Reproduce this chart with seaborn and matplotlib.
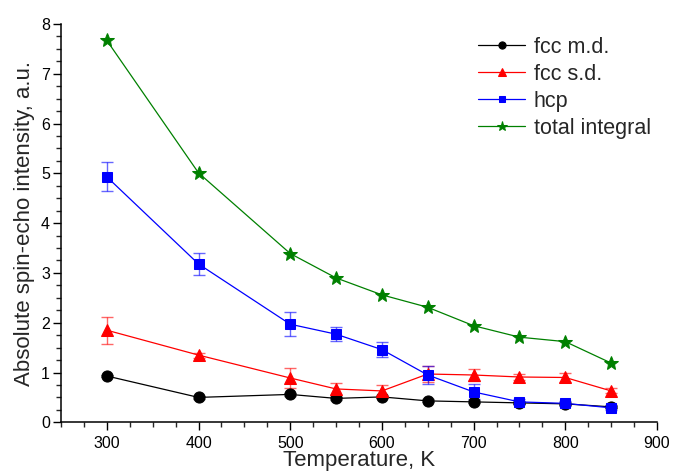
import numpy as np
import pandas as pd
import matplotlib
matplotlib.use("Agg")
import matplotlib.pyplot as plt
from matplotlib.ticker import MultipleLocator
import seaborn as sns

# Annealing temperatures, K
temperature = [300, 400, 500, 550, 600, 650, 700, 750, 800, 850]

# Absolute spin-echo intensity of each component, a.u.
fcc_md = [0.93, 0.50, 0.56, 0.48, 0.51, 0.43, 0.41, 0.39, 0.37, 0.31]
fcc_sd = [1.85, 1.35, 0.89, 0.67, 0.63, 0.97, 0.95, 0.91, 0.90, 0.63]
hcp = [4.93, 3.18, 1.97, 1.77, 1.46, 0.95, 0.61, 0.41, 0.38, 0.29]
total = [7.67, 5.01, 3.39, 2.90, 2.56, 2.31, 1.94, 1.71, 1.62, 1.19]

# Uncertainties
fcc_md_err = [0.03, 0.03, 0.03, 0.03, 0.03, 0.03, 0.03, 0.03, 0.03, 0.03]
fcc_sd_err = [0.27, 0.05, 0.20, 0.12, 0.12, 0.16, 0.12, 0.07, 0.10, 0.05]
hcp_err = [0.29, 0.23, 0.24, 0.14, 0.15, 0.18, 0.15, 0.05, 0.05, 0.04]

series_names = ["fcc m.d.", "fcc s.d.", "hcp", "total integral"]
series_values = [fcc_md, fcc_sd, hcp, total]
series_errors = [fcc_md_err, fcc_sd_err, hcp_err, None]
colors = ["#000000", "#ff0000", "#0000ff", "#008000"]
markers = ["o", "^", "s", "*"]
marker_sizes = [8, 9, 7.5, 10.5]

sns.set_style("ticks")
plt.rcParams["font.family"] = ["Liberation Sans", "DejaVu Sans"]

fig = plt.figure(figsize=(6.73, 4.73), dpi=100)
ax = fig.add_axes([0.0906, 0.1072, 0.8856, 0.842])

for name, vals, err, col, mk, ms in zip(series_names, series_values, series_errors,
                                         colors, markers, marker_sizes):
    df = pd.DataFrame({"T": temperature, "I": vals})
    if err is not None:
        ax.errorbar(temperature, vals, yerr=err, fmt="none", ecolor=col,
                    alpha=0.6, elinewidth=1.0, capsize=4, capthick=1.0, zorder=2)
    sns.lineplot(data=df, x="T", y="I", ax=ax, color=col, marker=mk,
                 markersize=ms, markeredgecolor=col, linewidth=0.9,
                 label=name, zorder=3)

ax.set_xlim(250, 900)
ax.set_ylim(0, 8)
ax.xaxis.set_major_locator(MultipleLocator(100))
ax.xaxis.set_minor_locator(MultipleLocator(25))
ax.yaxis.set_major_locator(MultipleLocator(1))
ax.yaxis.set_minor_locator(MultipleLocator(0.25))
ax.set_xticks([300, 400, 500, 600, 700, 800, 900])

ax.tick_params(axis="both", which="major", direction="out", length=6,
               width=1.0, labelsize=11.5, colors="black")
ax.tick_params(axis="both", which="minor", direction="out", length=3.6, width=1.0)
ax.tick_params(axis="y", pad=2)
ax.tick_params(axis="x", pad=4)

for side in ["top", "right"]:
    ax.spines[side].set_visible(False)
for side in ["left", "bottom"]:
    ax.spines[side].set_linewidth(1.1)
    ax.spines[side].set_color("black")

ax.set_xlabel("Temperature, K", fontsize=16, labelpad=-1)
ax.set_ylabel("Absolute spin-echo intensity, a.u.", fontsize=16, labelpad=4)

leg = ax.legend(loc="upper left", bbox_to_anchor=(0.678, 1.0), frameon=False,
                fontsize=15.5, handlelength=2.2, handletextpad=0.4,
                labelspacing=0.28, markerscale=0.65, borderaxespad=0.2)

fig.savefig("out.png", dpi=100)
